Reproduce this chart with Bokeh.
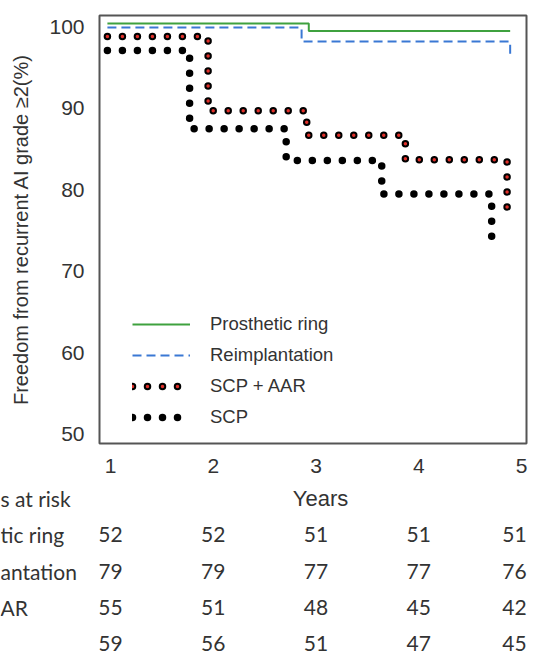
from bokeh.plotting import figure
from bokeh.layouts import column, row
from bokeh.models import Range1d, FixedTicker, Legend, LegendItem
from bokeh.core.properties import value
from bokeh.embed import file_html
from bokeh.resources import INLINE

# ---------------- data ----------------
ring_t = [0.97, 2.93, 4.89]
ring_s = [100.4, 99.5, 99.5]
reimp_t = [0.97, 2.86, 4.89]
reimp_s = [99.9, 98.2, 96.5]
aar_t = [0.97, 1.95, 2.91, 3.87, 4.86]
aar_s = [98.8, 89.7, 86.7, 83.7, 76.3]
scp_t = [0.97, 1.77, 2.71, 3.64, 4.71]
scp_s = [97.1, 87.5, 83.6, 79.5, 73.4]

years = [1, 2, 3, 4, 5]
y_ticks = [50, 60, 70, 80, 90, 100]
series_names = ["Prosthetic ring", "Reimplantation", "SCP + AAR", "SCP"]
risk_ring = [52, 52, 51, 51, 51]
risk_reimp = [79, 79, 77, 77, 76]
risk_aar = [55, 51, 48, 45, 42]
risk_scp = [59, 56, 51, 47, 45]
table_header = "s at risk"
row_labels = ["tic ring", "antation", "AR", ""]
x_title = "Years"
y_title = "Freedom from recurrent AI grade \u22652(%)"

# ---------------- layout ----------------
W = 528
HA, HB = 480, 176
FL, FR, FT, FB = 99, 526, 15, 443          # frame edges in canvas px
X0, X1 = 0.893, 5.049
Y0, Y1 = 48.896, 101.386
XS = (FR - FL) / (X1 - X0)                 # px per year

TXT = "#333333"
GREEN = "#3fa13f"
BLUE = "#3a78d4"
RED = "#e0302a"

p = figure(width=W, height=HA, x_range=Range1d(X0, X1), y_range=Range1d(Y0, Y1),
           output_backend="svg", toolbar_location=None,
           min_border_left=FL, min_border_right=W - FR,
           min_border_top=FT, min_border_bottom=HA - FB)
p.xgrid.visible = False
p.ygrid.visible = False
p.outline_line_color = "#555555"
p.outline_line_width = 2

for ax in (p.xaxis[0], p.yaxis[0]):
    ax.axis_line_color = None
    ax.major_tick_line_color = None
    ax.minor_tick_line_color = None
    ax.major_tick_out = 0
    ax.major_tick_in = 0
    ax.minor_tick_out = 0
    ax.major_label_text_font = "Liberation Sans"
    ax.major_label_text_font_size = "21px"
    ax.major_label_text_color = TXT
    ax.axis_label_text_font = "Liberation Sans"
    ax.axis_label_text_font_style = "normal"
    ax.axis_label_text_color = TXT

p.xaxis.ticker = FixedTicker(ticks=years)
p.yaxis.ticker = FixedTicker(ticks=y_ticks)
p.xaxis.major_label_standoff = 15
p.yaxis.major_label_standoff = 15
p.yaxis.axis_label = y_title
p.yaxis.axis_label_text_font_size = "20px"
p.yaxis.axis_label_standoff = 14

# ---------------- curves ----------------
r_ring = p.step(ring_t, ring_s, mode="after", line_color=GREEN, line_width=2)
r_reimp = p.step(reimp_t, reimp_s, mode="after", line_color=BLUE, line_width=2,
                 line_dash="9 5")
r_aar_b = p.step(aar_t, aar_s, mode="after", line_color="black", line_width=7.5,
                 line_dash="0 15", line_cap="round")
r_aar_r = p.step(aar_t, aar_s, mode="after", line_color=RED, line_width=3.5,
                 line_dash="0 15", line_cap="round")
r_scp = p.step(scp_t, scp_s, mode="after", line_color="black", line_width=7.5,
               line_dash="0 15", line_cap="round")

legend = Legend(items=[
    LegendItem(label=series_names[0], renderers=[r_ring]),
    LegendItem(label=series_names[1], renderers=[r_reimp]),
    LegendItem(label=series_names[2], renderers=[r_aar_b, r_aar_r]),
    LegendItem(label=series_names[3], renderers=[r_scp]),
], location=(33, 15), glyph_width=58, glyph_height=20, label_height=20,
    spacing=9, padding=0, margin=0, border_line_color=None,
    background_fill_alpha=0, label_text_font="Liberation Sans",
    label_text_font_size="18.5px", label_standoff=20, label_text_color=TXT)
p.add_layout(legend)

# ---------------- numbers at risk table ----------------
ROW0, ROWSTEP = 18, 36.25                   # px from top of table figures
BY1 = ROW0 / ROWSTEP
BY0 = -(HB - ROW0) / ROWSTEP


def bare(fig):
    fig.xgrid.visible = False
    fig.ygrid.visible = False
    fig.outline_line_color = None
    return fig


# row labels (left strip, same width as the plot's left border)
c = bare(figure(width=FL, height=HB, x_range=Range1d(0, FL), y_range=Range1d(BY0, BY1),
                output_backend="svg", toolbar_location=None,
                x_axis_location=None, y_axis_location=None,
                min_border=0, min_border_left=0, min_border_right=0,
                min_border_top=0, min_border_bottom=0))
lab_text = [table_header] + [r for r in row_labels if r]
lab_y = [0] + [-(i + 1) for i, r in enumerate(row_labels) if r]
c.text(x=[0] * len(lab_text), y=lab_y, text=lab_text, text_align="left",
       text_baseline="middle", text_font=value("Lato"),
       text_font_size="21px", text_color=TXT)

# numbers (aligned with the plot's x scale)
BW = W - FL
t = bare(figure(width=BW, height=HB, x_range=Range1d(X0, X0 + BW / XS),
                y_range=Range1d(BY0, BY1),
                output_backend="svg", toolbar_location=None,
                x_axis_location=None, y_axis_location=None,
                min_border=0, min_border_left=0, min_border_right=0,
                min_border_top=0, min_border_bottom=0))
risk_rows = [risk_ring, risk_reimp, risk_aar, risk_scp]
tx, ty, tt, toff = [], [], [], []
for i, rw in enumerate(risk_rows):
    for yr, n in zip(years, rw):
        tx.append(yr)
        ty.append(-(i + 1))
        tt.append(str(n))
        toff.append(-7 if yr == years[-1] else 0)
t.text(x=tx, y=ty, text=tt, x_offset=toff, text_align="center",
       text_baseline="middle", text_font=value("Lato"),
       text_font_size="21px", text_color=TXT)
t.text(x=[X0 + (320 - FL) / XS], y=[0], text=[x_title], text_align="center",
       text_baseline="middle", text_font=value("Liberation Sans"),
       text_font_size="22px", text_color=TXT)

layout = column(p, row(c, t, spacing=0), spacing=0)
open("out.html", "w").write(file_html(layout, INLINE))
